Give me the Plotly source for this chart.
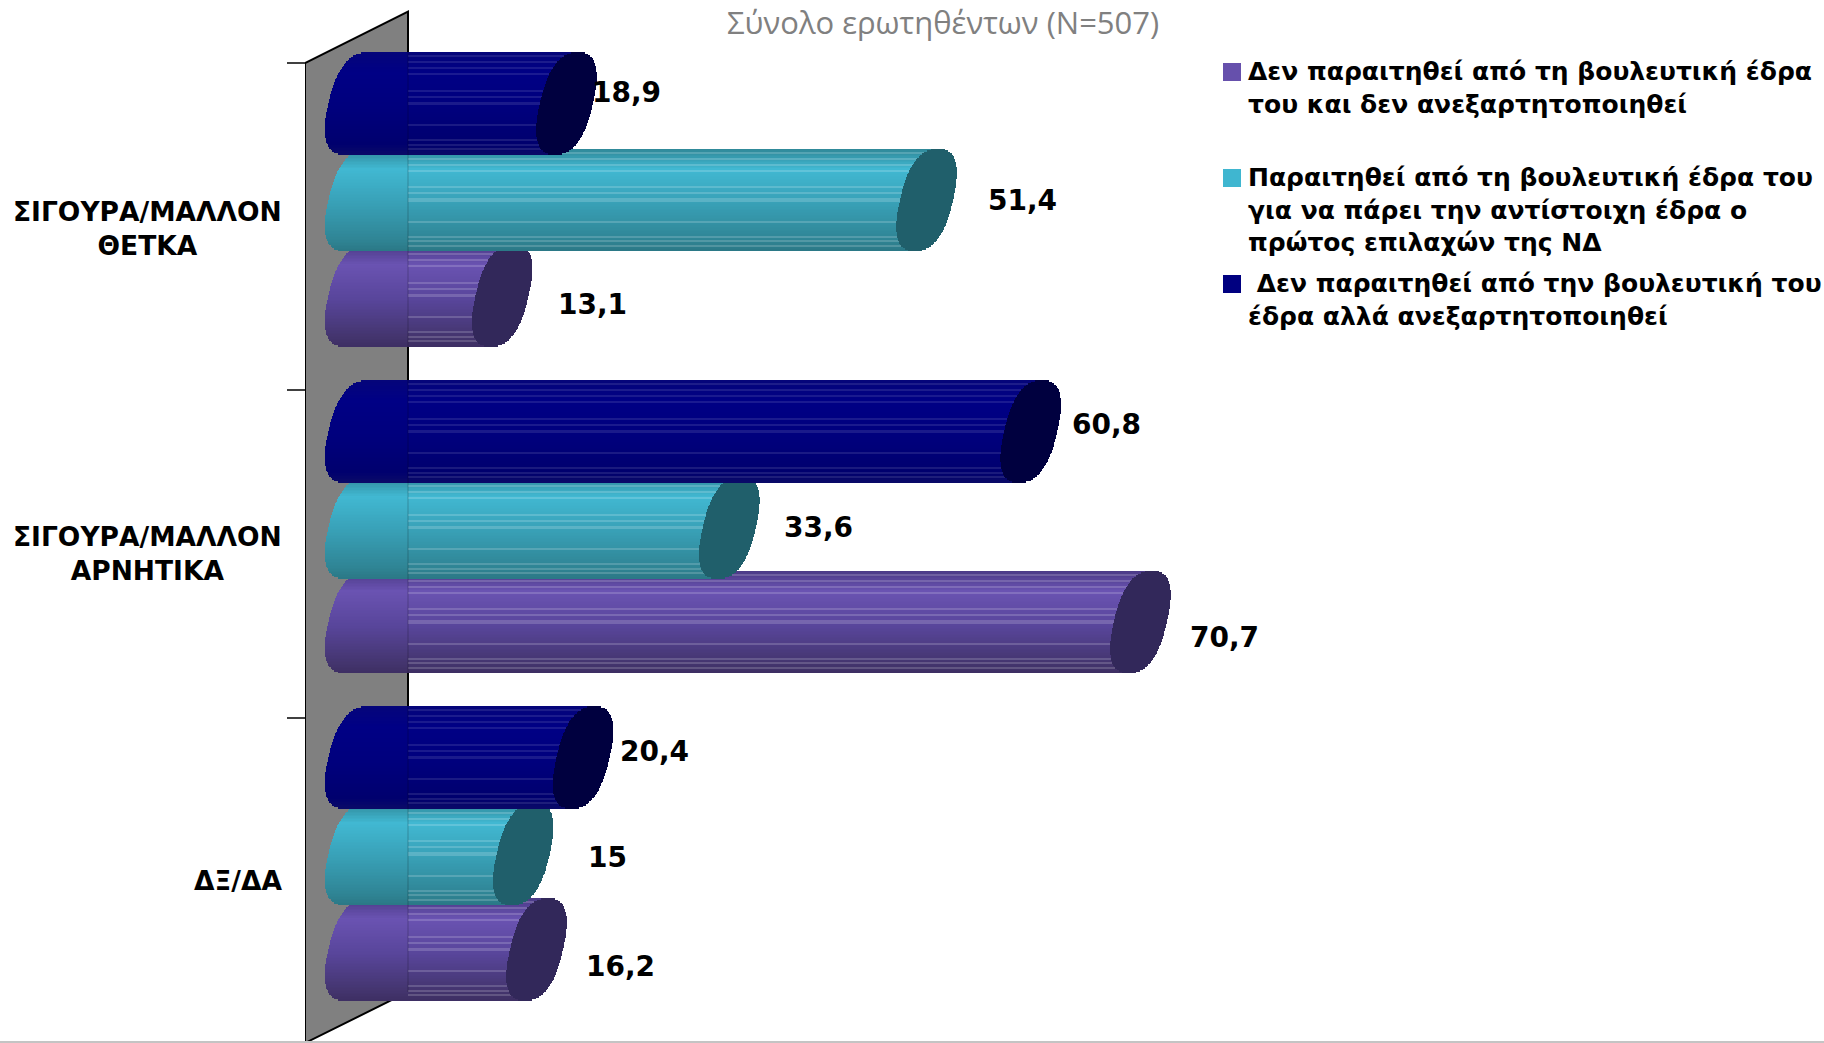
import plotly.graph_objects as go
import math

categories = ["ΣΙΓΟΥΡΑ/ΜΑΛΛΟΝ<br>ΘΕΤΚΑ", "ΣΙΓΟΥΡΑ/ΜΑΛΛΟΝ<br>ΑΡΝΗΤΙΚΑ", "ΔΞ/ΔΑ"]
resign_no_indep = [13.1, 70.7, 16.2]      # purple
resign_seat = [51.4, 33.6, 15]            # teal
stay_indep = [18.9, 60.8, 20.4]           # navy
labels_purple = ["13,1", "70,7", "16,2"]
labels_teal = ["51,4", "33,6", "15"]
labels_navy = ["18,9", "60,8", "20,4"]
legend_texts = [
    "Δεν παραιτηθεί από τη βουλευτική έδρα<br>του και δεν ανεξαρτητοποιηθεί",
    "Παραιτηθεί από τη βουλευτική έδρα του<br>για να πάρει την αντίστοιχη έδρα ο<br>πρώτος επιλαχών της ΝΔ",
    " Δεν παραιτηθεί από την βουλευτική του<br>έδρα αλλά ανεξαρτητοποιηθεί",
]
subtitle = "Σύνολο ερωτηθέντων (N=507)"

W, H = 1824, 1043
PLOT_LEFT = 305
PX_ZERO = 357.0
PX_PER_UNIT = 11.08
CAT_PITCH = 327.5
CAT0_PX = 226.0

def xv(px):
    return (px - PX_ZERO) / PX_PER_UNIT

def yv(py):
    return (py - CAT0_PX) / CAT_PITCH

XR = [xv(PLOT_LEFT), xv(W)]
YR = [yv(H), yv(0)]

A = 26.5 / PX_PER_UNIT        # end-cap half-width in value units
K = 11.5 / PX_PER_UNIT        # end-cap tilt in value units
P = 2.5                       # end-cap roundness (2 would be a true ellipse)
B = 51.0 / CAT_PITCH          # cylinder half-height in category units
WALL_BACK = xv(408)
STRIP = 1.5 / CAT_PITCH
N = int(2 * B / STRIP)

SERIES = [
    dict(vals=resign_no_indep, labels=labels_purple, off=[69.5 / CAT_PITCH, 68.5 / CAT_PITCH, 68.5 / CAT_PITCH],
         stops=[(0, "#4b3a86"), (.2, "#6a53b2"), (.55, "#58459a"), (.9, "#44356f"), (1, "#3d2f63")],
         cap="#32285a", swatch="#6650ac", streak=.17,
         xshift=[60, 54, 54], yshift=[9, 15, 17]),
    dict(vals=resign_seat, labels=labels_teal, off=[-26 / CAT_PITCH, -26 / CAT_PITCH, -27 / CAT_PITCH],
         stops=[(0, "#2f8898"), (.2, "#41b8d2"), (.55, "#389fb5"), (.9, "#2f8494"), (1, "#2b7886")],
         cap="#205f6b", swatch="#3fb6d0", streak=.17,
         xshift=[66, 59, 54], yshift=[0, 0, 3]),
    dict(vals=stay_indep, labels=labels_navy, off=[-122.5 / CAT_PITCH, -122 / CAT_PITCH, -123.5 / CAT_PITCH],
         stops=[(0, "#05057a"), (.2, "#000085"), (.55, "#00007d"), (.9, "#00006e"), (1, "#0a0a68")],
         cap="#00003f", swatch="#000080", streak=.1,
         xshift=[30, 46, 41], yshift=[-11, -7, -6]),
]
STREAKS = [.04, .10, .16, .21, .38, .44, .50, .71, .86, .90, .95]
CAT_LABEL_SHIFT = [2, 0, -1]

def hex2rgb(c):
    return tuple(int(c[i:i + 2], 16) for i in (1, 3, 5))

def ramp(stops, f):
    for (f0, c0), (f1, c1) in zip(stops, stops[1:]):
        if f <= f1:
            t = (f - f0) / (f1 - f0)
            a, b = hex2rgb(c0), hex2rgb(c1)
            return "rgb(%d,%d,%d)" % tuple(round(a[i] + (b[i] - a[i]) * t) for i in range(3))
    return stops[-1][1]

def lighten(rgb, t):
    r = [int(s) for s in rgb[4:-1].split(",")]
    return "rgb(%d,%d,%d)" % tuple(round(c + (255 - c) * t) for c in r)

fig = go.Figure()
annotations = []

for s in SERIES:
    for c, val in enumerate(s["vals"]):
        cy = c + s["off"][c]
        ys, bases, lens, cols = [], [], [], []
        cap_y, cap_b, cap_l = [], [], []
        sk_y, sk_b, sk_l, sk_c = [], [], [], []
        for i in range(N):
            f = (i + .5) / N
            v = 2 * f - 1                       # -1 at the top edge, +1 at the bottom
            half = A * max(0, 1 - abs(v) ** P) ** (1 / P)
            shift = -K * v
            left = shift - half * 1.08
            right = val + shift
            y = cy + v * B
            col = ramp(s["stops"], f)
            ys.append(y); bases.append(left); lens.append(right - left); cols.append(col)
            cap_y.append(y); cap_b.append(right - half); cap_l.append(2 * half)
            if any(abs(f - q) < .5 / N for q in STREAKS):
                b0 = max(left, WALL_BACK)
                if right > b0:
                    sk_y.append(y); sk_b.append(b0); sk_l.append(right - b0); sk_c.append(lighten(col, s["streak"]))
        fig.add_bar(y=ys, x=lens, base=bases, orientation="h", width=STRIP * 1.35,
                    marker=dict(color=cols, line=dict(width=0)), showlegend=False, hoverinfo="skip")
        if sk_y:
            fig.add_bar(y=sk_y, x=sk_l, base=sk_b, orientation="h", width=STRIP * 0.7,
                        marker=dict(color=sk_c, line=dict(width=0)), showlegend=False, hoverinfo="skip")
        fig.add_bar(y=cap_y, x=cap_l, base=cap_b, orientation="h", width=STRIP * 1.35,
                    marker=dict(color=s["cap"], line=dict(width=0)), showlegend=False, hoverinfo="skip")
        annotations.append(dict(x=val, y=cy, text="<b>%s</b>" % s["labels"][c], showarrow=False,
                                xref="x", yref="y", xanchor="center", yanchor="middle",
                                xshift=30 + s["xshift"][c], yshift=-s["yshift"][c],
                                font=dict(family="DejaVu Sans", size=28, color="black")))

for c, name in enumerate(categories):
    annotations.append(dict(x=(284 - PLOT_LEFT) / (W - PLOT_LEFT), y=c + CAT_LABEL_SHIFT[c] / CAT_PITCH,
                            xref="paper", yref="y",
                            text="<b>%s</b>" % name, showarrow=False, align="center",
                            xanchor="right", yanchor="middle",
                            font=dict(family="DejaVu Sans", size=26.5, color="black")))

annotations.append(dict(x=(943 - PLOT_LEFT) / (W - PLOT_LEFT), y=yv(22), xref="paper", yref="y",
                        text=subtitle, showarrow=False, xanchor="center", yanchor="middle",
                        font=dict(family="Open Sans", size=31, color="#808080")))

legend_tops = [55, 161, 267]
shapes = []
for txt, top, s in zip(legend_texts, legend_tops, SERIES):
    annotations.append(dict(x=(1246 - PLOT_LEFT) / (W - PLOT_LEFT), y=yv(top), xref="paper", yref="y",
                            text="<b>%s</b>" % txt, showarrow=False, align="left",
                            xanchor="left", yanchor="top",
                            font=dict(family="DejaVu Sans", size=25, color="black")))
    shapes.append(dict(type="rect", xref="x", yref="y", x0=xv(1223), x1=xv(1241),
                       y0=yv(top + 8), y1=yv(top + 26), fillcolor=s["swatch"], line=dict(width=0)))

wall = "M %f %f L %f %f L %f %f L %f %f Z" % (xv(305), yv(63), xv(408), yv(11.5), xv(408), yv(992), xv(305), yv(1043))
shapes.insert(0, dict(type="path", path=wall, xref="x", yref="y", fillcolor="#808080",
                      line=dict(color="black", width=2), layer="below"))
shapes.append(dict(type="line", xref="x", yref="y", x0=xv(408), x1=xv(408), y0=yv(50), y1=yv(992),
                   line=dict(color="rgba(0,0,0,0.15)", width=1.5)))
for py in (63, 390, 718):
    shapes.append(dict(type="line", xref="paper", yref="y",
                       x0=(287 - PLOT_LEFT) / (W - PLOT_LEFT), x1=0, y0=yv(py), y1=yv(py),
                       line=dict(color="black", width=1.5)))
shapes.append(dict(type="line", xref="paper", yref="y", x0=(0 - PLOT_LEFT) / (W - PLOT_LEFT), x1=1,
                   y0=yv(1042), y1=yv(1042), line=dict(color="#c4c4c4", width=2)))

fig.update_layout(
    width=W, height=H, margin=dict(l=PLOT_LEFT, r=0, t=0, b=0, pad=0),
    paper_bgcolor="white", plot_bgcolor="rgba(0,0,0,0)",
    barmode="overlay", bargap=0, showlegend=False,
    xaxis=dict(range=XR, visible=False, fixedrange=True),
    yaxis=dict(range=YR, visible=False, fixedrange=True),
    annotations=annotations, shapes=shapes,
)
fig.write_html("out.html", config=dict(displayModeBar=False),
               post_script="document.body.style.margin='0';document.body.style.overflow='hidden';")
